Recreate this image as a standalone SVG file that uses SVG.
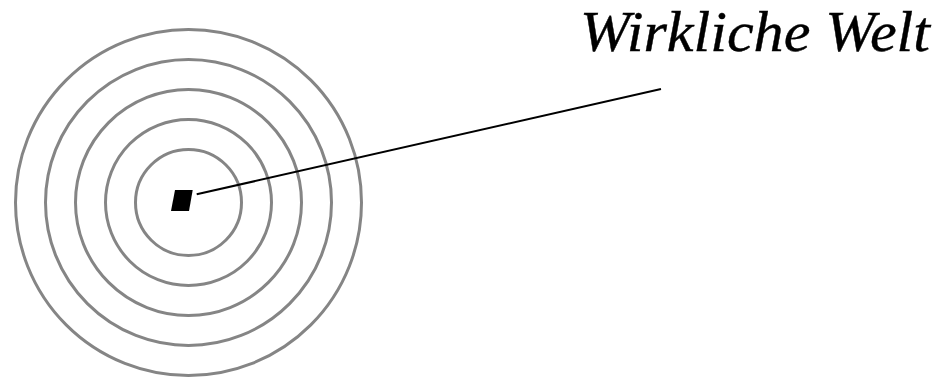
<svg xmlns="http://www.w3.org/2000/svg" width="945" height="377" viewBox="0 0 945 377">
<style>
.ring{fill:none;stroke:#858585;stroke-width:3}
.lbl{font-family:"Liberation Serif","DejaVu Serif",serif;font-style:italic;font-size:57px;fill:#000;stroke:#000;stroke-width:0.4}
</style>
<rect width="945" height="377" fill="#fff"/>
<g id="rings">
<circle class="ring" cx="188.5" cy="202.5" r="173"/>
<circle class="ring" cx="188.5" cy="202.5" r="143"/>
<circle class="ring" cx="188.5" cy="202.5" r="113"/>
<circle class="ring" cx="188.5" cy="202.5" r="83"/>
<circle class="ring" cx="188.5" cy="202.5" r="53"/>
</g>
<g id="point">
<polygon points="175,190 192.7,190 189,211 171,211" fill="#000"/>
</g>
<g id="connectors">
<line x1="196.7" y1="194.3" x2="661" y2="89" stroke="#000" stroke-width="2"/>
</g>
<g id="label">
<text class="lbl" x="580" y="51" textLength="350" lengthAdjust="spacingAndGlyphs">Wirkliche Welt</text>
</g>
</svg>
